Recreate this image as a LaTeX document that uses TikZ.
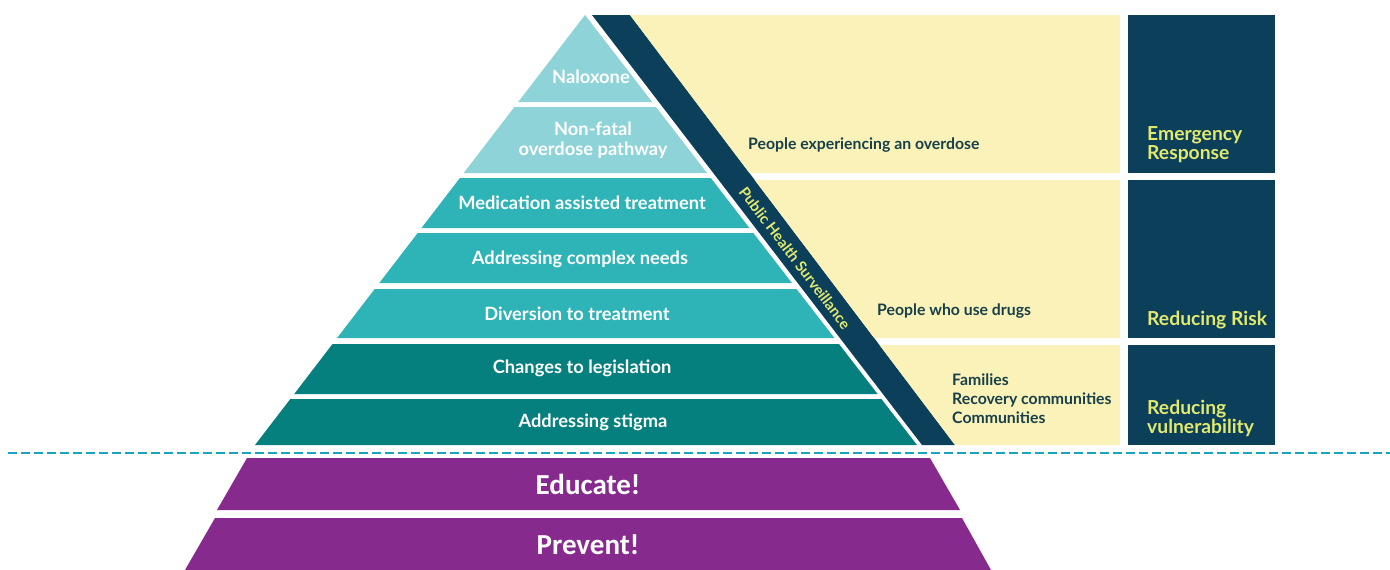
\documentclass[tikz,border=0pt]{standalone}
\usepackage{fontspec}
\setmainfont{Lato}
\newfontfamily\purplefont{Carlito}
\definecolor{tealL}{HTML}{8ED3D7}
\definecolor{tealM}{HTML}{2EB3B6}
\definecolor{tealD}{HTML}{06807E}
\definecolor{navy}{HTML}{0B3F5A}
\definecolor{paleY}{HTML}{FAF2B8}
\definecolor{yText}{HTML}{E2E96F}
\definecolor{dText}{HTML}{17404A}
\definecolor{purp}{HTML}{862A8D}
\definecolor{dashC}{HTML}{1CA3C2}
\tikzset{
  ptext/.style={text=white, font=\fontsize{18.3}{20}\selectfont\bfseries, align=center, inner sep=0pt},
  ytext/.style={text=dText, font=\fontsize{15.8}{19}\selectfont\bfseries, align=left, inner sep=0pt, anchor=west},
  btext/.style={text=yText, font=\fontsize{19.3}{19}\selectfont\bfseries, align=left, inner sep=0pt, anchor=west},
  purtext/.style={text=white, font=\fontsize{29}{30}\selectfont\purplefont\bfseries, inner sep=0pt},
}
\begin{document}
\begin{tikzpicture}[x=1pt,y=-1pt]
\useasboundingbox (0,0) rectangle (1390,570);
% pyramid layers
\fill[tealL] (585,15) -- (652.2,102) -- (518.2,102) -- cycle;
\fill[tealL] (514.4,107) -- (656.0,107) -- (707.0,173) -- (463.7,173) -- cycle;
\fill[tealM] (459.9,178) -- (710.8,178) -- (749.4,228) -- (421.5,228) -- cycle;
\fill[tealM] (417.7,233) -- (753.3,233) -- (791.9,283) -- (379.3,283) -- cycle;
\fill[tealM] (374.7,289) -- (796.5,289) -- (834.4,338) -- (337.1,338) -- cycle;
\fill[tealD] (332.5,344) -- (839.0,344) -- (877.6,394) -- (294.2,394) -- cycle;
\fill[tealD] (290.3,399) -- (881.4,399) -- (917.0,445) -- (255.0,445) -- cycle;
% diagonal band
\fill[navy] (592,15) -- (630,15) -- (955,445) -- (922,445) -- cycle;
% yellow rows
\fill[paleY] (630,15) -- (1120,15) -- (1120,173) -- (749.4,173) -- cycle;
\fill[paleY] (754.7,180) -- (1120,180) -- (1120,338) -- (874.2,338) -- cycle;
\fill[paleY] (879.5,345) -- (1120,345) -- (1120,445) -- (955,445) -- cycle;
% right boxes
\fill[navy] (1128,15) rectangle (1275,173);
\fill[navy] (1128,180) rectangle (1275,338);
\fill[navy] (1128,345) rectangle (1275,445);
% dashed line
\coordinate (dl) at (8,453);
\coordinate (dr) at (1390,453);
\draw[dashC, line width=1.8pt, dash pattern=on 9pt off 4pt] (dl) -- (dr);
% purple trapezoids
\fill[purp] (247,458) -- (930,458) -- (960,510) -- (217,510) -- cycle;
\fill[purp] (215,518) -- (962,518) -- (991,570) -- (185,570) -- cycle;
% pyramid texts
\node[ptext] (nal) at (591,77) {Naloxone};
\node[ptext] (nf) at (593,140) {Non-fatal\\overdose pathway};
\node[ptext] (mat) at (582,203) {Medication assisted treatment};
\node[ptext] (acn) at (580,259) {Addressing complex needs};
\node[ptext] (dtt) at (577,314) {Diversion to treatment};
\node[ptext] (ctl) at (582,368) {Changes to legislation};
\node[ptext] (as) at (593,422) {Addressing stigma};
% band text
\node[text=yText, font=\fontsize{15}{16}\selectfont\bfseries, inner sep=0pt, rotate=-52.8] (phs) at (795,258) {Public Health Surveillance};
% yellow texts
\node[ytext] (peo) at (748,145) {People experiencing an overdose};
\node[ytext] (pwu) at (877,311) {People who use drugs};
\node[ytext] (fam) at (952,399) {Families\\Recovery communities\\Communities};
% box labels
\node[btext] (er) at (1147,145) {Emergency\\Response};
\node[btext] (rr) at (1147,320) {Reducing Risk};
\node[btext] (rv) at (1147,418) {Reducing\\vulnerability};
% purple texts
\node[purtext] (edu) at (588,484) {Educate!};
\node[purtext] (prev) at (588,545) {Prevent!};
\end{tikzpicture}
\end{document}
